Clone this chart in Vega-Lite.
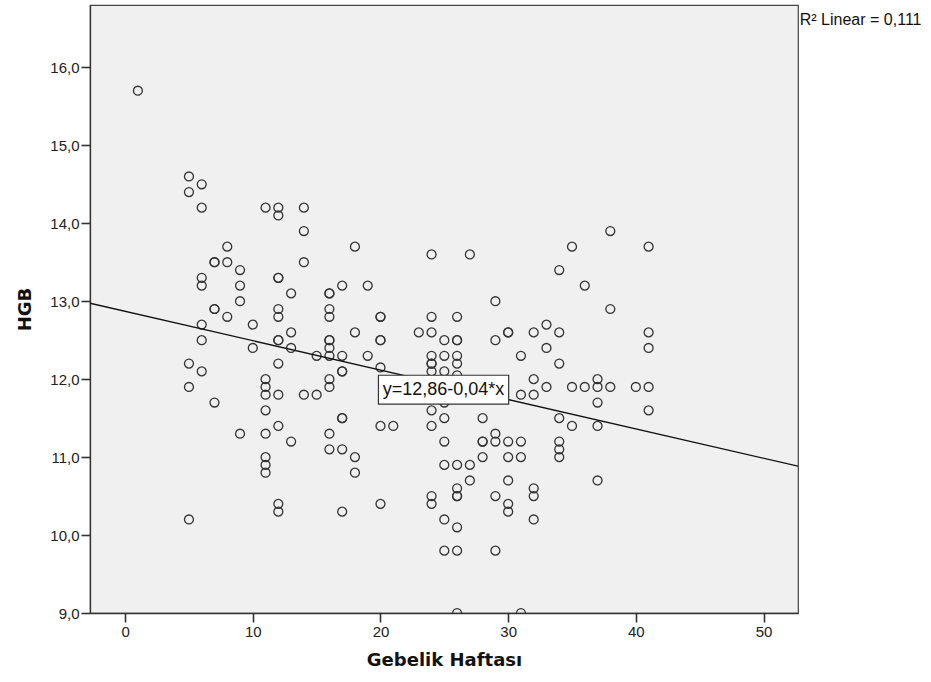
{
  "$schema": "https://vega.github.io/schema/vega-lite/v6.json",
  "width": 708,
  "height": 608,
  "autosize": "none",
  "padding": {"left": 90, "top": 5, "right": 133, "bottom": 69},
  "background": "white",
  "config": {
    "view": {"fill": "#F0F0F0", "stroke": "#444444", "strokeWidth": 1.2},
    "axis": {
      "domainColor": "#333333",
      "tickColor": "#333333",
      "labelColor": "#222222",
      "labelFont": "Liberation Sans",
      "labelFontSize": 15,
      "titleFont": "DejaVu Sans",
      "titleFontWeight": "bold",
      "titleFontSize": 18,
      "titleColor": "#111111",
      "grid": false,
      "tickSize": 9,
      "domainWidth": 1.3,
      "tickWidth": 1.6
    }
  },
  "datasets": {
    "points": [
      {"Gebelik": 1, "HGB": 15.7},
      {"Gebelik": 5, "HGB": 14.6}, {"Gebelik": 5, "HGB": 14.4}, {"Gebelik": 5, "HGB": 12.2}, {"Gebelik": 5, "HGB": 11.9}, {"Gebelik": 5, "HGB": 10.2},
      {"Gebelik": 6, "HGB": 14.5}, {"Gebelik": 6, "HGB": 14.2}, {"Gebelik": 6, "HGB": 13.3}, {"Gebelik": 6, "HGB": 13.2}, {"Gebelik": 6, "HGB": 12.7}, {"Gebelik": 6, "HGB": 12.5}, {"Gebelik": 6, "HGB": 12.1},
      {"Gebelik": 7, "HGB": 13.5}, {"Gebelik": 7, "HGB": 13.5}, {"Gebelik": 7, "HGB": 12.9}, {"Gebelik": 7, "HGB": 12.9}, {"Gebelik": 7, "HGB": 11.7},
      {"Gebelik": 8, "HGB": 13.7}, {"Gebelik": 8, "HGB": 13.5}, {"Gebelik": 8, "HGB": 12.8},
      {"Gebelik": 9, "HGB": 13.4}, {"Gebelik": 9, "HGB": 13.2}, {"Gebelik": 9, "HGB": 13.0}, {"Gebelik": 9, "HGB": 11.3},
      {"Gebelik": 10, "HGB": 12.7}, {"Gebelik": 10, "HGB": 12.4},
      {"Gebelik": 11, "HGB": 14.2}, {"Gebelik": 11, "HGB": 12.0}, {"Gebelik": 11, "HGB": 11.9}, {"Gebelik": 11, "HGB": 11.8}, {"Gebelik": 11, "HGB": 11.6}, {"Gebelik": 11, "HGB": 11.3}, {"Gebelik": 11, "HGB": 11.0}, {"Gebelik": 11, "HGB": 10.9}, {"Gebelik": 11, "HGB": 10.8},
      {"Gebelik": 12, "HGB": 14.2}, {"Gebelik": 12, "HGB": 14.1}, {"Gebelik": 12, "HGB": 13.3}, {"Gebelik": 12, "HGB": 13.3}, {"Gebelik": 12, "HGB": 12.9}, {"Gebelik": 12, "HGB": 12.8}, {"Gebelik": 12, "HGB": 12.5}, {"Gebelik": 12, "HGB": 12.5}, {"Gebelik": 12, "HGB": 12.2}, {"Gebelik": 12, "HGB": 11.8}, {"Gebelik": 12, "HGB": 11.4}, {"Gebelik": 12, "HGB": 10.4}, {"Gebelik": 12, "HGB": 10.3},
      {"Gebelik": 13, "HGB": 13.1}, {"Gebelik": 13, "HGB": 12.6}, {"Gebelik": 13, "HGB": 12.4}, {"Gebelik": 13, "HGB": 11.2},
      {"Gebelik": 14, "HGB": 14.2}, {"Gebelik": 14, "HGB": 13.9}, {"Gebelik": 14, "HGB": 13.5}, {"Gebelik": 14, "HGB": 11.8},
      {"Gebelik": 15, "HGB": 12.3}, {"Gebelik": 15, "HGB": 11.8},
      {"Gebelik": 16, "HGB": 13.1}, {"Gebelik": 16, "HGB": 13.1}, {"Gebelik": 16, "HGB": 12.9}, {"Gebelik": 16, "HGB": 12.8}, {"Gebelik": 16, "HGB": 12.5}, {"Gebelik": 16, "HGB": 12.5}, {"Gebelik": 16, "HGB": 12.4}, {"Gebelik": 16, "HGB": 12.3}, {"Gebelik": 16, "HGB": 12.0}, {"Gebelik": 16, "HGB": 11.9}, {"Gebelik": 16, "HGB": 11.3}, {"Gebelik": 16, "HGB": 11.1},
      {"Gebelik": 17, "HGB": 13.2}, {"Gebelik": 17, "HGB": 12.3}, {"Gebelik": 17, "HGB": 12.1}, {"Gebelik": 17, "HGB": 12.1}, {"Gebelik": 17, "HGB": 11.5}, {"Gebelik": 17, "HGB": 11.5}, {"Gebelik": 17, "HGB": 11.1}, {"Gebelik": 17, "HGB": 10.3},
      {"Gebelik": 18, "HGB": 13.7}, {"Gebelik": 18, "HGB": 12.6}, {"Gebelik": 18, "HGB": 11.0}, {"Gebelik": 18, "HGB": 10.8},
      {"Gebelik": 19, "HGB": 13.2}, {"Gebelik": 19, "HGB": 12.3},
      {"Gebelik": 20, "HGB": 12.8}, {"Gebelik": 20, "HGB": 12.8}, {"Gebelik": 20, "HGB": 12.5}, {"Gebelik": 20, "HGB": 12.5}, {"Gebelik": 20, "HGB": 12.15}, {"Gebelik": 20, "HGB": 11.4}, {"Gebelik": 20, "HGB": 10.4},
      {"Gebelik": 21, "HGB": 11.4},
      {"Gebelik": 23, "HGB": 12.6},
      {"Gebelik": 24, "HGB": 13.6}, {"Gebelik": 24, "HGB": 12.8}, {"Gebelik": 24, "HGB": 12.6}, {"Gebelik": 24, "HGB": 12.3}, {"Gebelik": 24, "HGB": 12.2}, {"Gebelik": 24, "HGB": 12.2}, {"Gebelik": 24, "HGB": 12.1}, {"Gebelik": 24, "HGB": 11.6}, {"Gebelik": 24, "HGB": 11.4}, {"Gebelik": 24, "HGB": 10.5}, {"Gebelik": 24, "HGB": 10.4},
      {"Gebelik": 25, "HGB": 12.5}, {"Gebelik": 25, "HGB": 12.3}, {"Gebelik": 25, "HGB": 12.1}, {"Gebelik": 25, "HGB": 11.7}, {"Gebelik": 25, "HGB": 11.5}, {"Gebelik": 25, "HGB": 11.2}, {"Gebelik": 25, "HGB": 10.9}, {"Gebelik": 25, "HGB": 10.2}, {"Gebelik": 25, "HGB": 9.8},
      {"Gebelik": 26, "HGB": 12.8}, {"Gebelik": 26, "HGB": 12.5}, {"Gebelik": 26, "HGB": 12.5}, {"Gebelik": 26, "HGB": 12.3}, {"Gebelik": 26, "HGB": 12.2}, {"Gebelik": 26, "HGB": 12.05}, {"Gebelik": 26, "HGB": 10.9}, {"Gebelik": 26, "HGB": 10.6}, {"Gebelik": 26, "HGB": 10.5}, {"Gebelik": 26, "HGB": 10.5}, {"Gebelik": 26, "HGB": 10.1}, {"Gebelik": 26, "HGB": 9.8}, {"Gebelik": 26, "HGB": 9.0},
      {"Gebelik": 27, "HGB": 13.6}, {"Gebelik": 27, "HGB": 10.9}, {"Gebelik": 27, "HGB": 10.7},
      {"Gebelik": 28, "HGB": 11.5}, {"Gebelik": 28, "HGB": 11.2}, {"Gebelik": 28, "HGB": 11.2}, {"Gebelik": 28, "HGB": 11.0},
      {"Gebelik": 29, "HGB": 13.0}, {"Gebelik": 29, "HGB": 12.5}, {"Gebelik": 29, "HGB": 11.3}, {"Gebelik": 29, "HGB": 11.2}, {"Gebelik": 29, "HGB": 10.5}, {"Gebelik": 29, "HGB": 9.8},
      {"Gebelik": 30, "HGB": 12.6}, {"Gebelik": 30, "HGB": 12.6}, {"Gebelik": 30, "HGB": 11.2}, {"Gebelik": 30, "HGB": 11.0}, {"Gebelik": 30, "HGB": 10.7}, {"Gebelik": 30, "HGB": 10.4}, {"Gebelik": 30, "HGB": 10.3},
      {"Gebelik": 31, "HGB": 12.3}, {"Gebelik": 31, "HGB": 11.8}, {"Gebelik": 31, "HGB": 11.2}, {"Gebelik": 31, "HGB": 11.0}, {"Gebelik": 31, "HGB": 9.0},
      {"Gebelik": 32, "HGB": 12.6}, {"Gebelik": 32, "HGB": 12.0}, {"Gebelik": 32, "HGB": 11.8}, {"Gebelik": 32, "HGB": 10.6}, {"Gebelik": 32, "HGB": 10.5}, {"Gebelik": 32, "HGB": 10.2},
      {"Gebelik": 33, "HGB": 12.7}, {"Gebelik": 33, "HGB": 12.4}, {"Gebelik": 33, "HGB": 11.9},
      {"Gebelik": 34, "HGB": 13.4}, {"Gebelik": 34, "HGB": 12.6}, {"Gebelik": 34, "HGB": 12.2}, {"Gebelik": 34, "HGB": 11.5}, {"Gebelik": 34, "HGB": 11.2}, {"Gebelik": 34, "HGB": 11.1}, {"Gebelik": 34, "HGB": 11.0},
      {"Gebelik": 35, "HGB": 13.7}, {"Gebelik": 35, "HGB": 11.9}, {"Gebelik": 35, "HGB": 11.4},
      {"Gebelik": 36, "HGB": 13.2}, {"Gebelik": 36, "HGB": 11.9},
      {"Gebelik": 37, "HGB": 12.0}, {"Gebelik": 37, "HGB": 11.9}, {"Gebelik": 37, "HGB": 11.7}, {"Gebelik": 37, "HGB": 11.4}, {"Gebelik": 37, "HGB": 10.7},
      {"Gebelik": 38, "HGB": 13.9}, {"Gebelik": 38, "HGB": 12.9}, {"Gebelik": 38, "HGB": 11.9},
      {"Gebelik": 40, "HGB": 11.9},
      {"Gebelik": 41, "HGB": 13.7}, {"Gebelik": 41, "HGB": 12.6}, {"Gebelik": 41, "HGB": 12.4}, {"Gebelik": 41, "HGB": 11.9}, {"Gebelik": 41, "HGB": 11.6}
    ],
    "fit": [
      {"Gebelik": -2.75, "HGB": 12.974},
      {"Gebelik": 52.7, "HGB": 10.883}
    ],
    "eqbox": [
      {"x1": 19.84, "x2": 30.04, "y1": 11.68, "y2": 12.05, "xc": 24.94, "yc": 11.862, "label": "y=12,86-0,04*x"}
    ],
    "rsq": [
      {"x": 52.84, "y": 16.54, "label": "R² Linear = 0,111"}
    ]
  },
  "layer": [
    {
      "data": {"name": "points"},
      "mark": {"type": "point", "shape": "circle", "filled": false, "size": 80, "stroke": "#333333", "strokeWidth": 1.3, "opacity": 1, "clip": true},
      "encoding": {
        "x": {
          "field": "Gebelik", "type": "quantitative",
          "scale": {"domain": [-2.75, 52.7], "nice": false, "zero": false},
          "axis": {"values": [0, 10, 20, 30, 40, 50], "title": "Gebelik Haftası", "titlePadding": 12, "labelPadding": 2}
        },
        "y": {
          "field": "HGB", "type": "quantitative",
          "scale": {"domain": [9, 16.8], "nice": false, "zero": false},
          "axis": {"values": [9, 10, 11, 12, 13, 14, 15, 16], "labelExpr": "replace(format(datum.value, '.1f'), '.', ',')", "title": "HGB", "titlePadding": 15, "labelPadding": 2}
        }
      }
    },
    {
      "data": {"name": "fit"},
      "mark": {"type": "line", "color": "#111111", "strokeWidth": 1.3, "clip": true},
      "encoding": {
        "x": {"field": "Gebelik", "type": "quantitative"},
        "y": {"field": "HGB", "type": "quantitative"}
      }
    },
    {
      "data": {"name": "eqbox"},
      "mark": {"type": "rect", "fill": "white", "stroke": "#333333", "strokeWidth": 1.2},
      "encoding": {
        "x": {"field": "x1", "type": "quantitative"},
        "x2": {"field": "x2"},
        "y": {"field": "y1", "type": "quantitative"},
        "y2": {"field": "y2"}
      }
    },
    {
      "data": {"name": "eqbox"},
      "mark": {"type": "text", "font": "Liberation Sans", "fontSize": 18, "color": "#111111", "align": "center", "baseline": "middle"},
      "encoding": {
        "x": {"field": "xc", "type": "quantitative"},
        "y": {"field": "yc", "type": "quantitative"},
        "text": {"field": "label"}
      }
    },
    {
      "data": {"name": "rsq"},
      "mark": {"type": "text", "font": "Liberation Sans", "fontSize": 16, "color": "#111111", "align": "left", "baseline": "alphabetic", "clip": false},
      "encoding": {
        "x": {"field": "x", "type": "quantitative"},
        "y": {"field": "y", "type": "quantitative"},
        "text": {"field": "label"}
      }
    }
  ]
}
